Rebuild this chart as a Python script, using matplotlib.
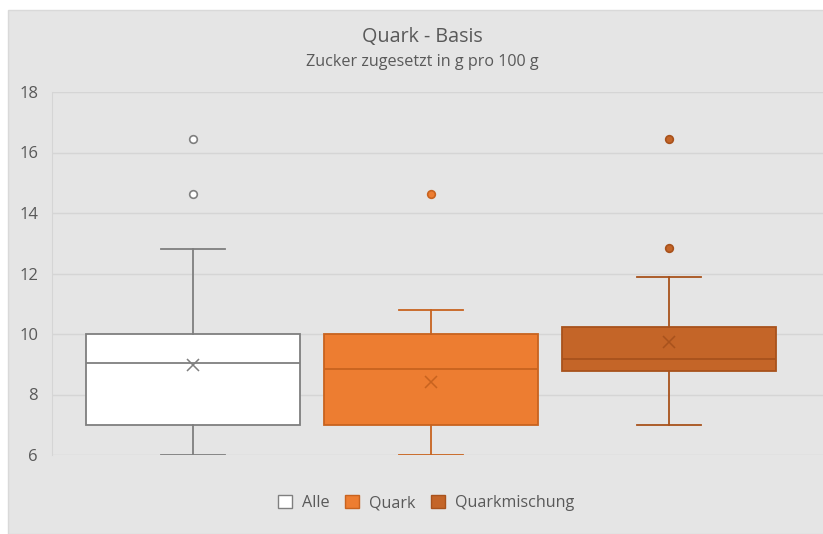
import numpy as np
import matplotlib.pyplot as plt
from matplotlib.patches import Patch, Rectangle

plt.rcParams['font.family'] = ['Open Sans', 'DejaVu Sans']

# box plot statistics per group (g sugar per 100 g)
labels = ['Alle', 'Quark', 'Quarkmischung']
q1 = [7.0, 7.0, 8.77]
med = [9.05, 8.83, 9.18]
q3 = [10.0, 10.0, 10.24]
whislo = [6.0, 6.0, 7.0]
whishi = [12.8, 10.8, 11.9]
means = [8.98, 8.4, 9.74]
fliers = [[14.64, 16.45], [14.64], [12.83, 16.45]]

face_colors = ['#ffffff', '#ed7d31', '#c46528']
edge_colors = ['#7f7f7f', '#c8631f', '#a8521c']
text_color = '#595959'
bg = '#e5e5e5'

fig = plt.figure(figsize=(8.23, 5.34), dpi=100)
fig.patch.set_facecolor('white')
# chart area frame, runs past the right and bottom edges
fig.patches.append(Rectangle((8 / 823, 0), 1, 1 - 10 / 534, transform=fig.transFigure,
                             facecolor=bg, edgecolor='#d9d9d9', linewidth=1, zorder=-10))

ax = fig.add_axes([52 / 823, 1 - 455 / 534, 1 - 52 / 823, (455 - 92) / 534])
ax.set_facecolor(bg)

for i in range(len(labels)):
    stats = [dict(q1=q1[i], med=med[i], q3=q3[i], whislo=whislo[i], whishi=whishi[i],
                  mean=means[i], fliers=fliers[i], label=labels[i])]
    ec = edge_colors[i]
    ax.bxp(stats, positions=[i], widths=0.9, capwidths=0.27, patch_artist=True,
           showmeans=True, manage_ticks=False,
           boxprops=dict(facecolor=face_colors[i], edgecolor=ec, linewidth=1.3),
           medianprops=dict(color=ec, linewidth=1.3),
           whiskerprops=dict(color=ec, linewidth=1.3),
           capprops=dict(color=ec, linewidth=1.3),
           meanprops=dict(marker='x', markeredgecolor=ec, markersize=9, markeredgewidth=1.1),
           flierprops=dict(marker='o', markerfacecolor=face_colors[i], markeredgecolor=ec,
                           markersize=5.5, markeredgewidth=1.2))

ax.set_ylim(6, 18)
ax.set_xlim(-141 / 238, (823 - 193) / 238)
ax.set_yticks(np.arange(6, 19, 2))
ax.yaxis.grid(True, color='#d5d5d5', linewidth=1)
ax.set_axisbelow(True)
ax.set_xticks([])
ax.tick_params(axis='y', length=0, pad=10, labelsize=12, labelcolor=text_color)
for s in ['top', 'right', 'bottom']:
    ax.spines[s].set_visible(False)
ax.spines['left'].set_color('#d5d5d5')

fig.text(422 / 823, 1 - 37 / 534, 'Quark - Basis', ha='center', va='center', fontsize=14.2,
         color=text_color)
fig.text(422 / 823, 1 - 62 / 534, 'Zucker zugesetzt in g pro 100 g', ha='center', va='center',
         fontsize=11.6, color=text_color)

handles = [Patch(facecolor=face_colors[i], edgecolor=edge_colors[i], label=labels[i])
           for i in range(len(labels))]
fig.legend(handles=handles, loc='center', bbox_to_anchor=(426 / 823, 1 - 503 / 534), ncol=3,
           frameon=False, fontsize=11.6, labelcolor=text_color, handlelength=0.85,
           handleheight=0.85, handletextpad=0.6, columnspacing=1.0)

fig.savefig('out.png', dpi=100, facecolor=fig.get_facecolor())
